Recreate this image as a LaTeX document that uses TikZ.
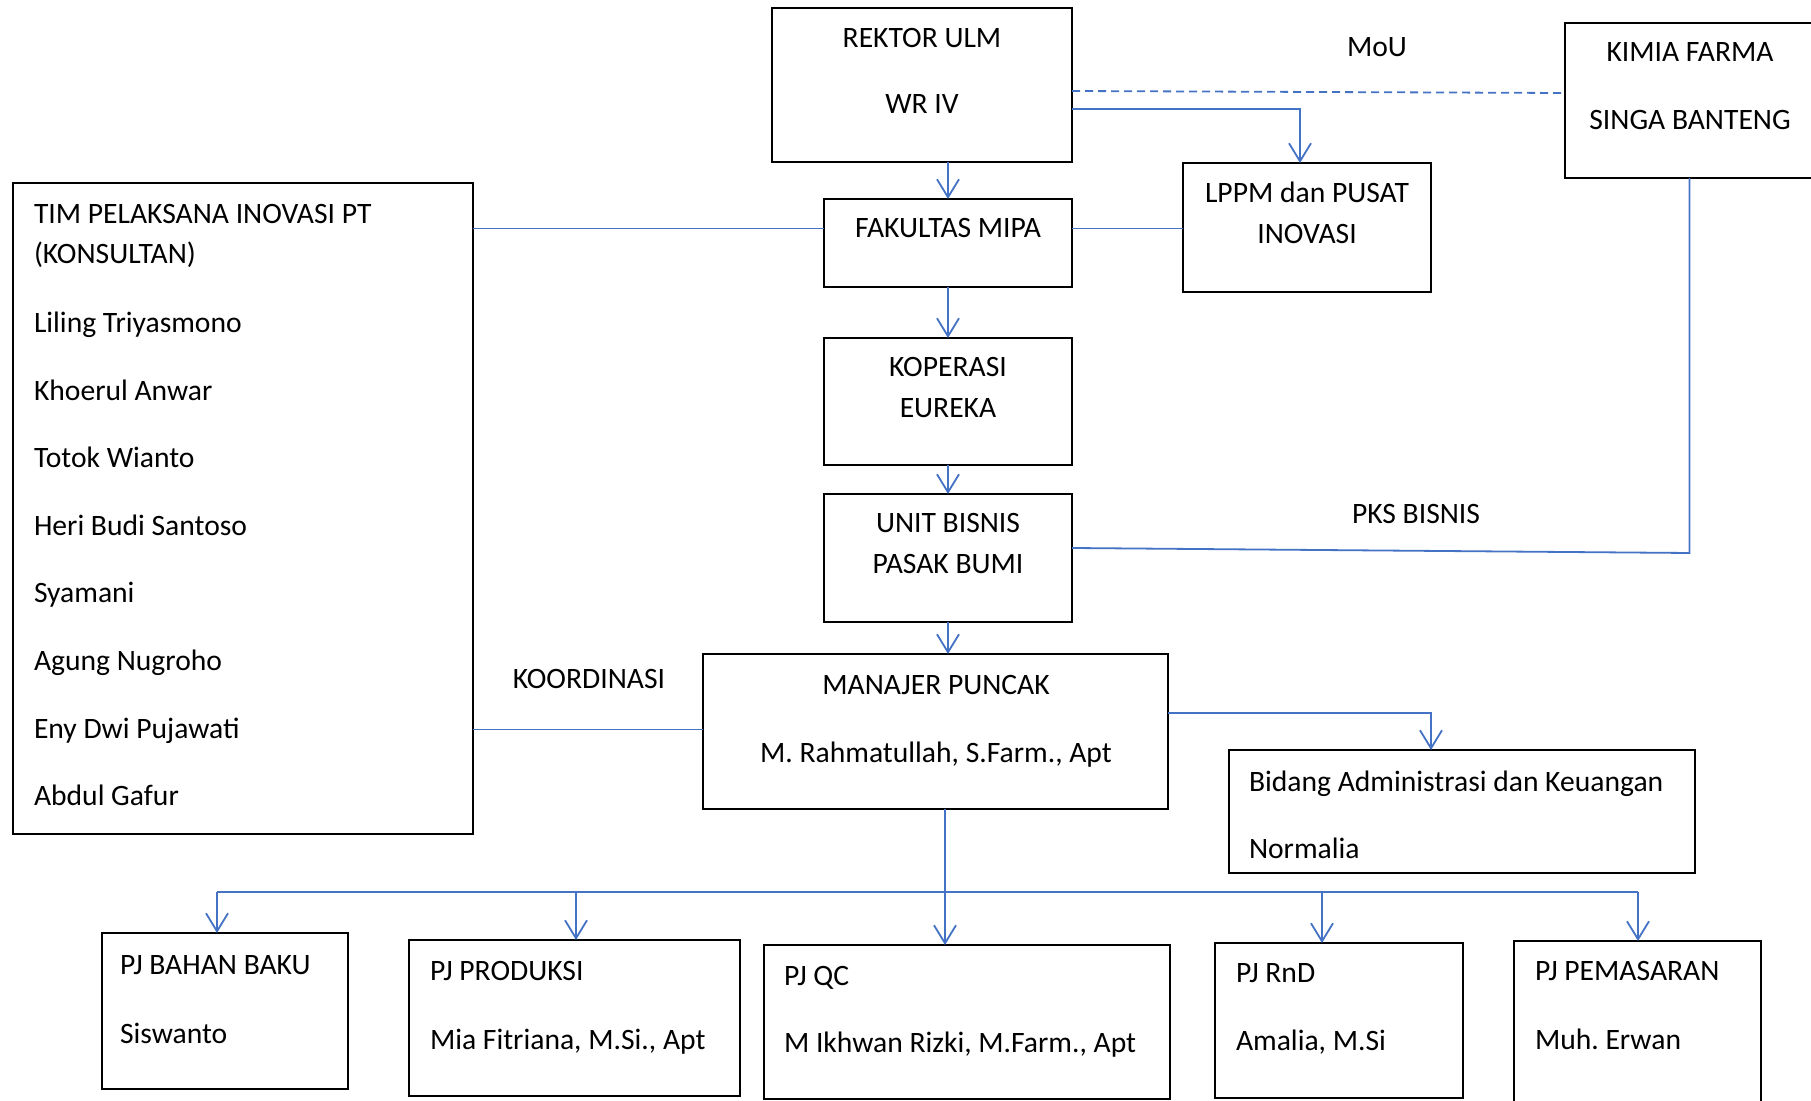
\documentclass[tikz,border=0pt]{standalone}
\usepackage{fontspec}
\setmainfont{Carlito}
\usetikzlibrary{arrows.meta}
\definecolor{lnblue}{HTML}{4472C4}
\frenchspacing
\begin{document}
\begin{tikzpicture}[x=0.5pt,y=-0.5pt,
  box/.style={draw=black, line width=1.1pt, inner sep=0pt, outer sep=0pt, anchor=north west},
  lbl/.style={inner sep=0pt, outer sep=0pt, font=\fontsize{14.8pt}{17pt}\selectfont, anchor=base},
  lbll/.style={lbl, anchor=base west},
  link/.style={draw=lnblue, line width=0.9pt},
  arr/.style={link, -{Straight Barb[length=9pt,width=11pt]}},
  moulink/.style={link, dash pattern=on 4pt off 2.5pt}]
\fill[white] (0,0) rectangle (1811,1101);
\clip (0,0) rectangle (1811,1101);

% boxes
\node[box, minimum width=150pt, minimum height=77pt] (rektor) at (772,8) {};
\node[box, minimum width=124.5pt, minimum height=77.5pt] (kimia) at (1565,23) {};
\node[box, minimum width=124pt, minimum height=64.5pt] (lppm) at (1183,163) {};
\node[box, minimum width=124pt, minimum height=44pt] (fak) at (824,199) {};
\node[box, minimum width=230pt, minimum height=325.5pt] (tim) at (13,183) {};
\node[box, minimum width=124pt, minimum height=63.5pt] (kop) at (824,338) {};
\node[box, minimum width=124pt, minimum height=64pt] (unit) at (824,494) {};
\node[box, minimum width=232.5pt, minimum height=77.5pt] (manajer) at (703,654) {};
\node[box, minimum width=233pt, minimum height=61.5pt] (bidang) at (1229,750) {};
\node[box, minimum width=123pt, minimum height=78pt] (bahan) at (102,933) {};
\node[box, minimum width=165.5pt, minimum height=78pt] (produksi) at (409,940) {};
\node[box, minimum width=203pt, minimum height=77pt] (qc) at (764,945) {};
\node[box, minimum width=124pt, minimum height=77.5pt] (rnd) at (1215,943) {};
\node[box, minimum width=123.5pt, minimum height=90pt] (pemasaran) at (1514,941) {};

% texts
\node[lbl] (rektorA) at (922,48) {REKTOR ULM};
\node[lbl] (rektorB) at (922,114) {WR IV};
\node[lbl] (mou) at (1377,57) {MoU};
\node[lbl] (kimiaA) at (1690,62) {KIMIA FARMA};
\node[lbl] (kimiaB) at (1690,130) {SINGA BANTENG};
\node[lbl] (lppmA) at (1307,203) {LPPM dan PUSAT};
\node[lbl] (lppmB) at (1307,244) {INOVASI};
\node[lbl] (fakA) at (948,238) {FAKULTAS MIPA};
\node[lbl] (kopA) at (948,377) {KOPERASI};
\node[lbl] (kopB) at (948,418) {EUREKA};
\node[lbl] (unitA) at (948,533) {UNIT BISNIS};
\node[lbl] (unitB) at (948,574) {PASAK BUMI};
\node[lbl] (pks) at (1416,524) {PKS BISNIS};
\node[lbl] (manA) at (936,694) {MANAJER PUNCAK};
\node[lbl] (manB) at (936,762) {M. Rahmatullah, S.Farm., Apt};
\node[lbl] (koord) at (589,689) {KOORDINASI};
\node[lbll] (bidA) at (1249,791) {Bidang Administrasi dan Keuangan};
\node[lbll] (bidB) at (1249,858) {Normalia};

\node[lbll] (tim1) at (34,223.5) {TIM PELAKSANA INOVASI PT};
\node[lbll] (tim2) at (34,264) {(KONSULTAN)};
\node[lbll] (tim3) at (34,333) {Liling Triyasmono};
\node[lbll] (tim4) at (34,400.5) {Khoerul Anwar};
\node[lbll] (tim5) at (34,468) {Totok Wianto};
\node[lbll] (tim6) at (34,535.5) {Heri Budi Santoso};
\node[lbll] (tim7) at (34,603) {Syamani};
\node[lbll] (tim8) at (34,670.5) {Agung Nugroho};
\node[lbll] (tim9) at (34,738) {Eny Dwi Pujawati};
\node[lbll] (tim10) at (34,805.5) {Abdul Gafur};

\node[lbll] (bahanA) at (120,974) {PJ BAHAN BAKU};
\node[lbll] (bahanB) at (120,1043) {Siswanto};
\node[lbll] (prodA) at (430,980) {PJ PRODUKSI};
\node[lbll] (prodB) at (430,1049) {Mia Fitriana, M.Si., Apt};
\node[lbll] (qcA) at (784,985) {PJ QC};
\node[lbll] (qcB) at (784,1052) {M Ikhwan Rizki, M.Farm., Apt};
\node[lbll] (rndA) at (1236,982) {PJ RnD};
\node[lbll] (rndB) at (1236,1050) {Amalia, M.Si};
\node[lbll] (pemA) at (1535,980) {PJ PEMASARAN};
\node[lbll] (pemB) at (1535,1049) {Muh. Erwan};

% bus coordinates
\coordinate (b1) at (217,892);
\coordinate (b2) at (576,892);
\coordinate (b3) at (945,892);
\coordinate (b4) at (1322,892);
\coordinate (b5) at (1638,892);

% connectors
\draw[moulink] ([yshift=-3pt]rektor.east) -- ([yshift=3.75pt]kimia.west);
\draw[arr] ([yshift=-12pt]rektor.east) -| ([xshift=-3.5pt]lppm.north);
\draw[arr] (fak.north |- rektor.south) -- (fak.north);
\draw[link] (tim.east |- fakA.center) -- (fak.west |- fakA.center);
\draw[link] (fak.east |- fakA.center) -- (lppm.west |- fakA.center);
\draw[arr] (fak.south) -- (kop.north);
\draw[arr] (kop.south) -- (unit.north);
\draw[link] (kimia.south) -- ([yshift=2.5pt]kimia.south |- unit.east) -- ([yshift=5pt]unit.east);
\draw[arr] (unit.south) -- (unit.south |- manajer.north);
\draw[link] ([yshift=1pt]tim.east |- manajer.west) -- ([yshift=1pt]manajer.west);
\draw[arr] ([yshift=9.25pt]manajer.east) -| ([xshift=-15.5pt]bidang.north);
\draw[link] (manajer.south -| b3) -- (b3);
\draw[link] (b1) -- (b5);
\draw[arr] (b1) -- (b1 |- bahan.north);
\draw[arr] (b2) -- (b2 |- produksi.north);
\draw[arr] (b3) -- (b3 |- qc.north);
\draw[arr] (b4) -- (b4 |- rnd.north);
\draw[arr] (b5) -- (b5 |- pemasaran.north);
\end{tikzpicture}
\end{document}
